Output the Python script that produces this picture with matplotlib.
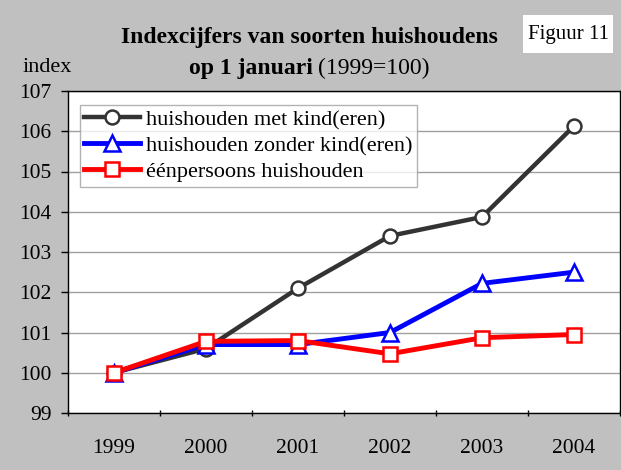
import matplotlib.pyplot as plt

years = ['1999', '2000', '2001', '2002', '2003', '2004']
met_kind = [100.0, 100.6, 102.1, 103.4, 103.87, 106.13]
zonder_kind = [100.0, 100.7, 100.7, 101.0, 102.22, 102.5]
eenpersoons = [100.0, 100.78, 100.8, 100.47, 100.87, 100.95]
labels = ['huishouden met kind(eren)', 'huishouden zonder kind(eren)',
          'éénpersoons huishouden']

plt.rcParams['font.family'] = ['Liberation Serif', 'DejaVu Serif']

W, H = 621, 470
fig = plt.figure(figsize=(W / 100, H / 100), dpi=100, facecolor='#c0c0c0')
ax = fig.add_axes([68 / W, 1 - 413 / H, 552 / W, 322 / H])
ax.set_facecolor('white')

x = range(len(years))
ax.plot(x, met_kind, color='#333333', lw=3.2, marker='o', ms=10,
        mfc='white', mec='#333333', mew=1.8, label=labels[0], zorder=3)
ax.plot(x, zonder_kind, color='#0000ff', lw=3.5, marker='^', ms=11,
        mfc='white', mec='#0000ff', mew=1.8, label=labels[1], zorder=4)
ax.plot(x, eenpersoons, color='#ff0000', lw=3.5, marker='s', ms=9.5,
        mfc='white', mec='#ff0000', mew=1.8, label=labels[2], zorder=5)

ax.set_xlim(-0.5, 5.5)
ax.set_ylim(99, 107)
ax.set_yticks(range(99, 108))
ax.set_xticks(list(x))
ax.set_xticklabels(years)
ax.set_xticks([i - 0.5 for i in range(7)], minor=True)
ax.tick_params(axis='x', which='major', length=0, pad=18.5, labelsize=15.5)
ax.tick_params(axis='x', which='minor', length=5, direction='inout', width=1)
ax.tick_params(axis='y', length=5, direction='out', width=1, pad=7,
               labelsize=15.5)
ax.yaxis.grid(True, color='#a0a0a0', lw=1)
ax.set_axisbelow(True)
for s in ax.spines.values():
    s.set_color('black')
    s.set_linewidth(1)

leg = ax.legend(loc='upper left', bbox_to_anchor=(12 / 552, 1 - 14 / 322),
                fontsize=16, frameon=True, fancybox=False,
                edgecolor='#a0a0a0', borderpad=0.2, labelspacing=0.25,
                handlelength=2.5, handletextpad=0.25, borderaxespad=0)
leg.get_frame().set_linewidth(1)

fig.text(309 / W, 1 - 43 / H, 'Indexcijfers van soorten huishoudens',
         ha='center', va='baseline', fontsize=17, fontweight='bold')
fig.text(313 / W, 1 - 74 / H, 'op 1 januari', ha='right', va='baseline',
         fontsize=17, fontweight='bold')
fig.text(318 / W, 1 - 74 / H, '(1999=100)', ha='left', va='baseline',
         fontsize=17)
fig.text(23 / W, 1 - 72 / H, 'index', ha='left', va='baseline', fontsize=16)
fig.patches.append(plt.Rectangle((523 / W, 1 - 53 / H), 90 / W, 38 / H,
                                 transform=fig.transFigure, fc='white',
                                 ec='none'))
fig.text(568 / W, 1 - 35 / H, 'Figuur 11', ha='center', va='center',
         fontsize=15)

fig.savefig('out.png', dpi=100, facecolor=fig.get_facecolor())
